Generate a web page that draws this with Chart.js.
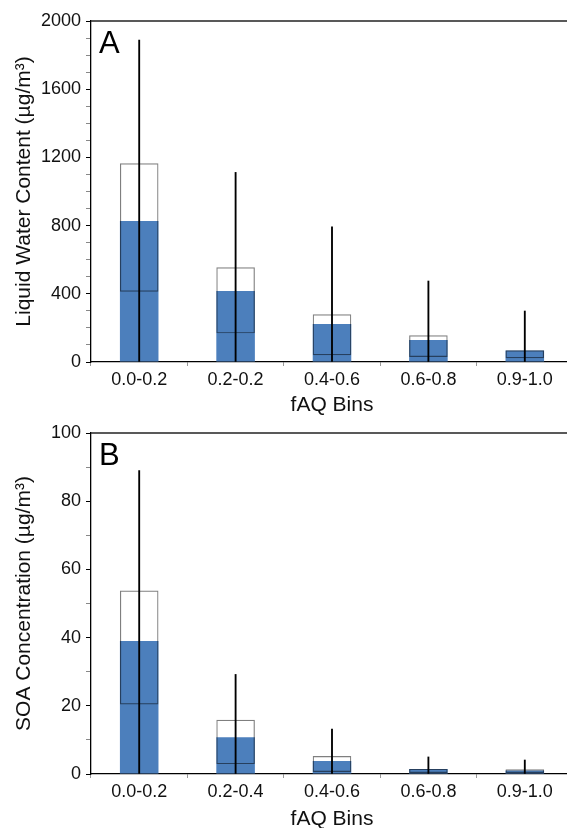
<!DOCTYPE html>
<html>
<head>
<meta charset="utf-8">
<script src="https://cdn.jsdelivr.net/npm/chart.js@4/dist/chart.umd.min.js"></script>
<style>
  html, body { margin: 0; padding: 0; background: #fff; overflow: hidden; }
  body { position: relative; width: 567px; height: 828px; }
  canvas { position: absolute; left: 0; }
  #chart-a { top: 0; }
  #chart-b { top: 412px; }
</style>
</head>
<body>
<canvas id="chart-a" width="573" height="420"></canvas>
<canvas id="chart-b" width="573" height="430"></canvas>
<script>
'use strict';

// Panel A: liquid water content per fAQ bin
var binsA   = ['0.0-0.2', '0.2-0.2', '0.4-0.6', '0.6-0.8', '0.9-1.0'];
var lwcMean = [827, 416, 223, 129, 68];
var lwcLow  = [412, 168, 40, 29, 22];
var lwcHigh = [1165, 555, 280, 157, 69];
var lwcMax  = [1888, 1112, 793, 475, 299];

// Panel B: SOA concentration per fAQ bin
var binsB   = ['0.0-0.2', '0.2-0.4', '0.4-0.6', '0.6-0.8', '0.9-1.0'];
var soaMean = [39, 10.8, 3.8, 1.5, 1.0];
var soaLow  = [20.4, 2.9, 0.6, 0.3, 0.3];
var soaHigh = [53.8, 15.9, 5.3, 1.5, 1.4];
var soaMax  = [89, 29.2, 13.2, 5.0, 4.1];

var colorBlue = '#4c7fbc';
var fontFamily = '"Liberation Sans", Arial, Helvetica, sans-serif';

Chart.defaults.font.family = fontFamily;

// top frame line + panel letter
var panelDecor = {
    id: 'panelDecor',
    afterDraw: function (chart, args, opts) {
        var a = chart.chartArea, ctx = chart.ctx;
        ctx.save();
        ctx.strokeStyle = '#222';
        ctx.lineWidth = 1.3;
        ctx.beginPath();
        ctx.moveTo(a.left, a.top);
        ctx.lineTo(a.right, a.top);
        ctx.stroke();
        ctx.fillStyle = '#000';
        ctx.font = '31px ' + fontFamily;
        ctx.textBaseline = 'alphabetic';
        ctx.fillText(opts.letter, a.left + 8, a.top + 32);
        ctx.restore();
    }
};

function pairs(lo, hi) {
    return lo.map(function (v, i) { return [v, hi[i]]; });
}
function zeros(n) {
    var out = [];
    for (var i = 0; i < n; i++) out.push(0);
    return out;
}

function makePanel(id, cfg) {
    var n = cfg.bins.length;
    return new Chart(document.getElementById(id), {
        type: 'bar',
        data: {
            labels: cfg.bins,
            datasets: [
                {   // whisker 0 -> max
                    data: pairs(zeros(n), cfg.max),
                    backgroundColor: '#000',
                    barThickness: 1.2,
                    grouped: false
                },
                {   // open box low -> high
                    data: pairs(cfg.low, cfg.high),
                    backgroundColor: 'rgba(0,0,0,0)',
                    borderColor: 'rgba(0,0,0,0.5)',
                    borderWidth: 1.2,
                    borderSkipped: false,
                    barPercentage: 0.4,
                    categoryPercentage: 1,
                    grouped: false
                },
                {   // filled bar
                    data: cfg.mean,
                    backgroundColor: colorBlue,
                    barPercentage: 0.4,
                    categoryPercentage: 1,
                    grouped: false
                }
            ]
        },
        options: {
            responsive: false,
            devicePixelRatio: 1,
            animation: false,
            layout: { padding: { top: 21, left: 0, right: 0, bottom: 0 } },
            plugins: {
                legend: { display: false },
                tooltip: { enabled: false },
                panelDecor: { letter: cfg.letter }
            },
            scales: {
                x: {
                    afterFit: function (s) { s.height = cfg.xHeight; },
                    ticks: { color: '#111', font: { size: 18 }, padding: 3, maxRotation: 0 },
                    grid: { drawOnChartArea: false, tickLength: 4, tickColor: '#999' },
                    border: { color: '#000', width: 1.3 },
                    title: {
                        display: true, text: 'fAQ Bins', color: '#111',
                        font: { size: 21 }, padding: { top: 0, bottom: cfg.xTitlePad }
                    }
                },
                y: {
                    min: 0,
                    max: cfg.yMax,
                    afterFit: function (s) { s.width = 91; },
                    ticks: {
                        stepSize: cfg.step,
                        autoSkip: false,
                        color: '#111',
                        font: { size: 18 },
                        padding: 5,
                        callback: function (v) { return v % cfg.major === 0 ? v : ''; }
                    },
                    grid: {
                        drawOnChartArea: false,
                        tickLength: 5,
                        tickColor: function (ctx) {
                            return ctx.tick && ctx.tick.value % cfg.major === 0 ? '#000' : '#888';
                        }
                    },
                    border: { color: '#000', width: 1.3 },
                    title: {
                        display: true, text: cfg.yTitle, color: '#111',
                        font: { size: 21 }, padding: { top: 12, bottom: 0 }
                    }
                }
            }
        },
        plugins: [panelDecor]
    });
}

makePanel('chart-a', {
    bins: binsA, mean: lwcMean, low: lwcLow, high: lwcHigh, max: lwcMax,
    yMax: 2000, step: 100, major: 400, letter: 'A',
    yTitle: 'Liquid Water Content (µg/m³)', xHeight: 58, xTitlePad: 2
});

makePanel('chart-b', {
    bins: binsB, mean: soaMean, low: soaLow, high: soaHigh, max: soaMax,
    yMax: 100, step: 10, major: 20, letter: 'B',
    yTitle: 'SOA Concentration (µg/m³)', xHeight: 68, xTitlePad: 10
});
</script>
</body>
</html>
